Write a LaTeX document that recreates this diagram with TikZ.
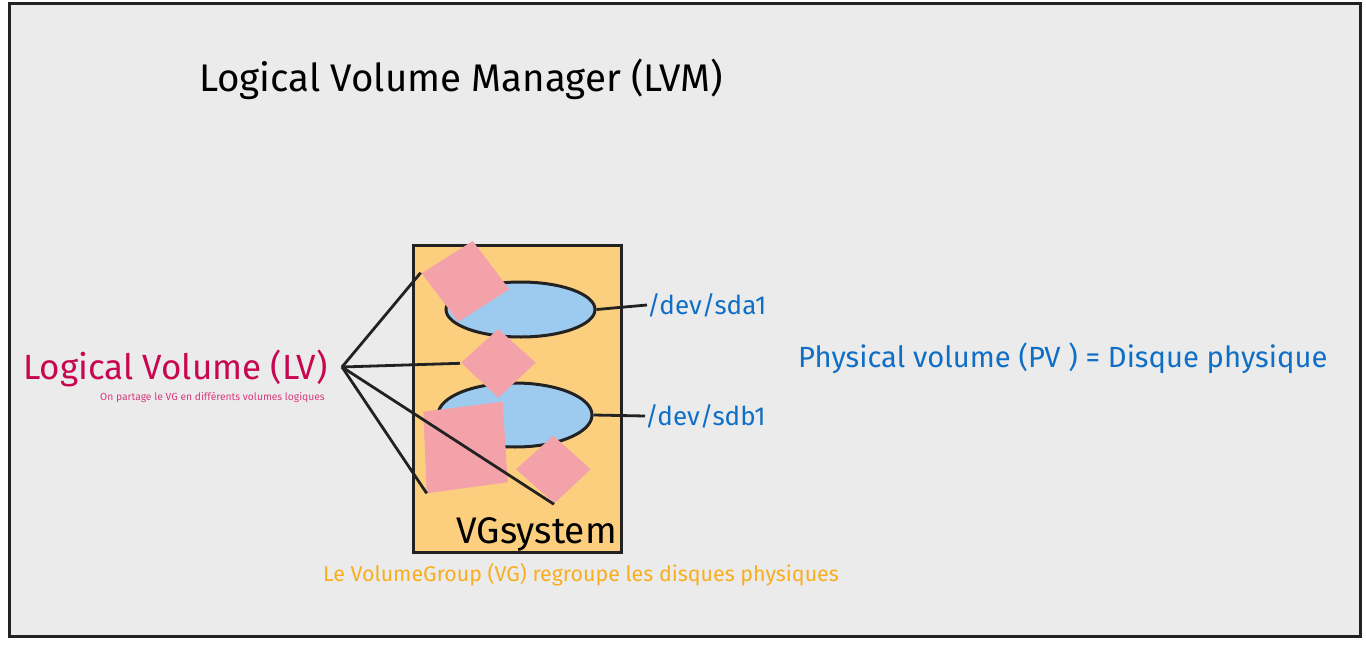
\documentclass[tikz,border=0pt]{standalone}
\usepackage{fontspec}
\usetikzlibrary{shapes.geometric}
\setmainfont{Fira Sans}
\definecolor{bgc}{HTML}{EBEBEB}
\definecolor{framec}{HTML}{222222}
\definecolor{vgc}{HTML}{FCCF7E}
\definecolor{pvc}{HTML}{9DCAEF}
\definecolor{lvc}{HTML}{F4A2AA}
\definecolor{bluet}{HTML}{0F6FC6}
\definecolor{crimson}{HTML}{C7074F}
\definecolor{pinkt}{HTML}{D93A7E}
\definecolor{oranget}{HTML}{F8AE1F}
\tikzset{
  lvshape/.style={fill=lvc, draw=none},
  pvdisk/.style={fill=pvc, draw=framec, line width=3pt},
  conn/.style={draw=framec, line width=2.8pt},
  lbl/.style={inner sep=0pt, anchor=west},
}
\begin{document}
\begin{tikzpicture}[x=1pt,y=-1pt]
\useasboundingbox (0,0) rectangle (1366,645);
\fill[white] (0,0) rectangle (1366,645);
% frame
\draw[fill=bgc, draw=framec, line width=3pt] (9,3) rectangle (1360,636);
% title
\node[lbl] (title) at (199,79) {\fontsize{38.5}{42}\selectfont Logical Volume Manager (LVM)};
% VG box
\draw[fill=vgc, draw=framec, line width=3pt] (413,245) rectangle (621,552);
\node[inner sep=0pt, anchor=base east] (vgname) at (617,543) {\fontsize{37}{40}\selectfont VGsystem};
% physical volumes
\node[pvdisk, ellipse, minimum width=149pt, minimum height=55pt, inner sep=0pt] (sda) at (520.5,309.5) {};
\node[pvdisk, ellipse, minimum width=154pt, minimum height=64pt, inner sep=0pt] (sdb) at (515,415) {};
% logical volumes
\fill[lvshape] (472.7,241) -- (509.3,289.3) -- (458.3,321.7) -- (421.7,273.3) -- cycle;
\fill[lvshape] (498.3,329) -- (535.7,362.7) -- (498.3,397.7) -- (461,362.7) -- cycle;
\fill[lvshape] (423.3,411.7) -- (502.7,401.7) -- (507.7,482.3) -- (426.7,493.3) -- cycle;
\fill[lvshape] (553.3,435.7) -- (590.7,469.3) -- (554.3,503.3) -- (516,469.3) -- cycle;
\coordinate (lv1) at (420.7,272.7);
\coordinate (lv2) at (460,363.3);
\coordinate (lv3) at (426.7,493.3);
\coordinate (lv4) at (554,504.3);
% labels
\node[lbl, text=bluet] (sdalbl) at (647,305) {\fontsize{26}{29}\selectfont /dev/sda1};
\node[lbl, text=bluet] (sdblbl) at (645,416) {\fontsize{26}{29}\selectfont /dev/sdb1};
\draw[conn] (sda.east) -- (sdalbl.west);
\draw[conn] (sdb.east) -- (sdblbl.west);
\node[lbl, text=crimson] (lvlbl) at (23,368) {\fontsize{35}{38}\selectfont Logical Volume (LV)};
\node[inner sep=0pt, anchor=east, text=pinkt] (lvsub) at (325,397) {\fontsize{10.3}{12}\selectfont On partage le VG en différents volumes logiques};
\coordinate (hub) at (342,367);
\draw[conn] (hub) -- (lv1);
\draw[conn] (hub) -- (lv2);
\draw[conn] (hub) -- (lv3);
\draw[conn] (hub) -- (lv4);
\node[lbl, text=bluet] (pvlbl) at (798,358) {\fontsize{29.2}{32}\selectfont Physical volume (PV ) = Disque physique};
\node[lbl, text=oranget] (vglbl) at (323,575) {\fontsize{21.4}{24}\selectfont Le VolumeGroup (VG) regroupe les disques physiques};
\end{tikzpicture}
\end{document}
